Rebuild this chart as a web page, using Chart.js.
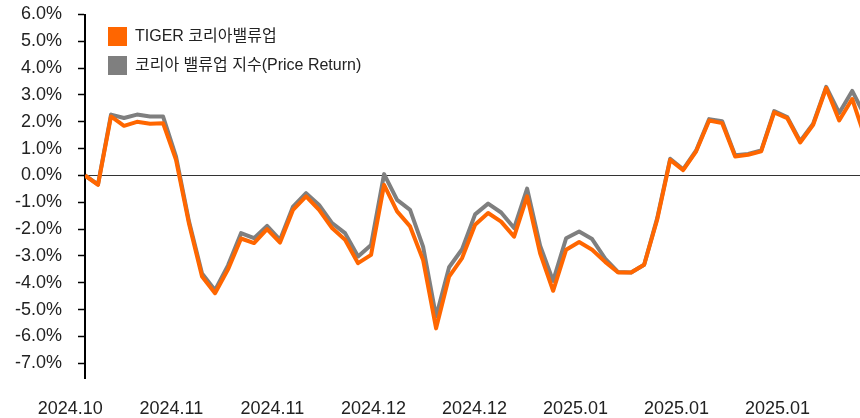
<!DOCTYPE html>
<html lang="ko">
<head>
<meta charset="utf-8">
<title>TIGER 코리아밸류업 vs 코리아 밸류업 지수</title>
<script src="https://cdn.jsdelivr.net/npm/chart.js@4.4.1/dist/chart.umd.min.js"></script>
<style>
  html, body { margin: 0; padding: 0; background: #fff; }
  #wrap { width: 860px; height: 418px; }
</style>
</head>
<body>
<div id="wrap"><canvas id="perf_chart" width="860" height="418"></canvas></div>
<script>
// cumulative return (%) per trading day
const tigerValues = [
    0.0, -0.35, 2.2, 1.85, 2.0, 1.93, 1.95, 0.58, -1.8, -3.77,
    -4.39, -3.5, -2.35, -2.52, -2.0, -2.5, -1.28, -0.78, -1.28, -1.96,
    -2.4, -3.27, -2.96, -0.35, -1.34, -1.9, -3.15, -5.7, -3.77, -3.08,
    -1.84, -1.4, -1.72, -2.28, -0.78, -2.9, -4.3, -2.77, -2.48, -2.77,
    -3.22, -3.62, -3.62, -3.33, -1.65, 0.58, 0.2, 0.9, 2.05, 1.95,
    0.71, 0.77, 0.9, 2.35, 2.14, 1.23, 1.89, 3.26, 2.05, 2.85,
    1.4
]
const indexValues = [
    0.0, -0.33, 2.27, 2.14, 2.27, 2.2, 2.2, 0.7, -1.72, -3.65,
    -4.28, -3.35, -2.15, -2.34, -1.88, -2.4, -1.16, -0.66, -1.1, -1.78,
    -2.15, -3.02, -2.59, 0.05, -0.91, -1.28, -2.65, -5.26, -3.42, -2.75,
    -1.45, -1.05, -1.38, -1.96, -0.49, -2.62, -3.93, -2.34, -2.09, -2.37,
    -3.1, -3.6, -3.62, -3.33, -1.6, 0.62, 0.23, 0.93, 2.1, 2.02,
    0.75, 0.8, 0.93, 2.4, 2.18, 1.28, 1.93, 3.3, 2.33, 3.15,
    2.2
]
const seriesNames = ['TIGER 코리아밸류업', '코리아 밸류업 지수(Price Return)']
const xTickLabels = ['2024.10', '2024.11', '2024.11', '2024.12', '2024.12', '2025.01', '2025.01', '2025.01']
const yTickValues = [6, 5, 4, 3, 2, 1, 0, -1, -2, -3, -4, -5, -6, -7]

// layout constants
const X_TICK_STEP = 7.77      // days between date labels
const X_LABEL_SHIFT = -14.7   // px, labels sit a bit left of their day
const FONT = "'Liberation Sans', 'Noto Sans CJK KR', sans-serif"

Chart.defaults.font.family = FONT
Chart.defaults.color = '#222'

// moves the legend inside the plot, top left like the original
const legendPlacer = {
    id: 'legendPlacer',
    afterLayout(chart) {
        chart.legend.left = 98
        chart.legend.top = 17
    }
}

const ctx = document.getElementById('perf_chart').getContext('2d')
new Chart(ctx, {
    type: 'line',
    data: {
        labels: tigerValues.map((_, i) => i),
        datasets: [{
            label: seriesNames[0],
            data: tigerValues,
            borderColor: '#FF6600',
            backgroundColor: '#FF6600',
            borderWidth: 4,
            borderJoinStyle: 'round',
            pointRadius: 0,
            tension: 0
        }, {
            label: seriesNames[1],
            data: indexValues,
            borderColor: '#7F7F7F',
            backgroundColor: '#7F7F7F',
            borderWidth: 4,
            borderJoinStyle: 'round',
            pointRadius: 0,
            tension: 0
        }]
    },
    options: {
        responsive: false,
        animation: false,
        layout: { padding: { top: 14.5, right: 0, bottom: 0, left: 0 } },
        scales: {
            x: {
                type: 'linear',
                min: 0,
                max: 59.6,
                grid: { display: false, drawTicks: false },
                border: { display: false },
                ticks: {
                    autoSkip: false,
                    maxRotation: 0,
                    padding: 20,
                    labelOffset: X_LABEL_SHIFT,
                    font: { size: 18 },
                    callback: (value, index) => xTickLabels[index]
                },
                afterBuildTicks: (scale) => {
                    scale.ticks = xTickLabels.map((_, k) => ({ value: k * X_TICK_STEP }))
                },
                afterFit: (scale) => { scale.height = 40 }
            },
            y: {
                min: -7.55,
                max: 6,
                grid: {
                    // only the zero line is drawn across the plot
                    color: (c) => (c.tick && c.tick.value === 0) ? '#333' : 'rgba(0,0,0,0)',
                    lineWidth: 1,
                    tickColor: '#000',
                    tickWidth: 1.5,
                    tickLength: 7
                },
                border: { display: true, color: '#000', width: 2 },
                ticks: {
                    padding: 16,
                    font: { size: 18 },
                    callback: (value) => value.toFixed(1) + '%'
                },
                afterBuildTicks: (scale) => {
                    scale.ticks = yTickValues.map(v => ({ value: v }))
                },
                afterFit: (scale) => {
                    scale.width = 85
                    // the top label may overhang the plot, as in the original
                    scale.paddingTop = 0
                    scale.paddingBottom = 0
                }
            }
        },
        plugins: {
            legend: {
                position: 'chartArea',
                align: 'start',
                labels: {
                    boxWidth: 19,
                    boxHeight: 19,
                    padding: 10,
                    color: '#222',
                    font: { size: 16 },
                    generateLabels: (chart) => Chart.defaults.plugins.legend.labels.generateLabels(chart)
                        .map(item => Object.assign(item, { lineWidth: 0 }))
                }
            },
            tooltip: { enabled: false }
        }
    },
    plugins: [legendPlacer]
})
</script>
</body>
</html>
